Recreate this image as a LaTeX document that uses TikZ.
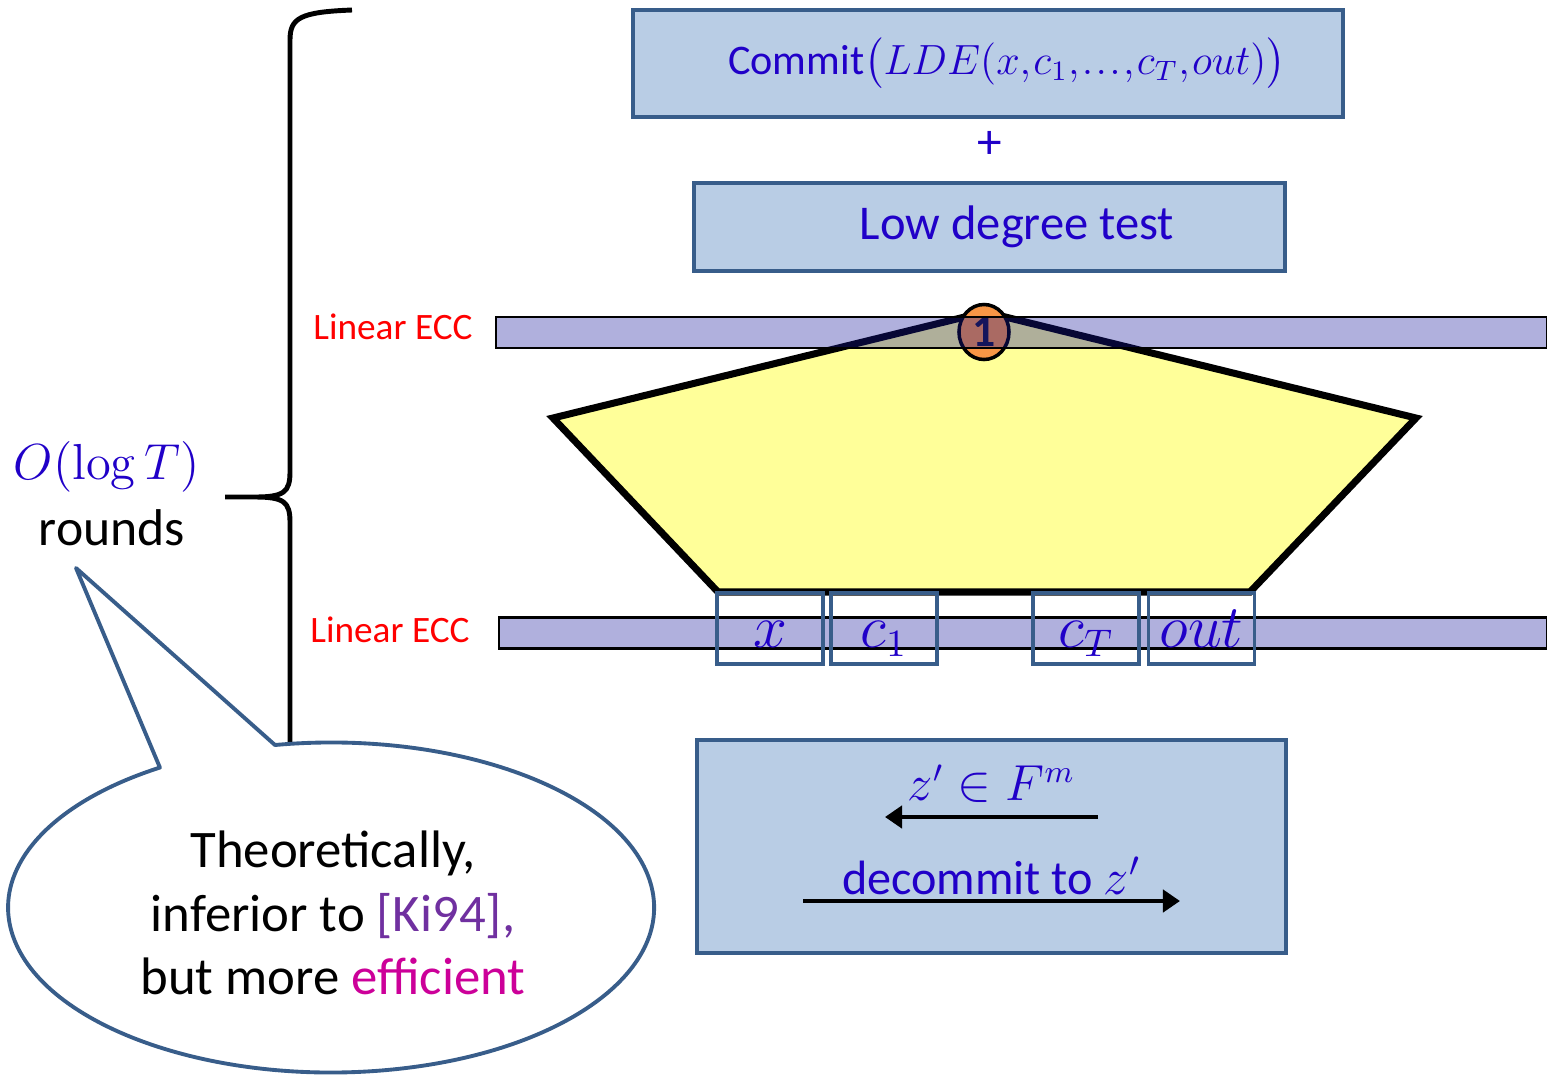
\documentclass[tikz,border=0pt]{standalone}
\usepackage{amsmath}
\usepackage[no-math]{fontspec}
\setmainfont{Carlito}
\usetikzlibrary{arrows.meta,positioning,shapes.geometric}
\definecolor{boxfill}{RGB}{185,205,229}
\definecolor{boxline}{RGB}{56,93,138}
\definecolor{txtblue}{RGB}{32,0,200}
\definecolor{barblue}{RGB}{23,23,156}
\definecolor{pentfill}{RGB}{255,255,153}
\definecolor{dotorange}{RGB}{247,150,70}
\definecolor{kipurple}{RGB}{112,48,160}
\definecolor{effmagenta}{RGB}{204,0,153}

\begin{document}
\begin{tikzpicture}[x=0.01cm,y=-0.01cm,
    box/.style={draw=boxline,line width=1.2pt,fill=boxfill,text=txtblue},
    bar/.style={draw=black,line width=0.6pt,fill=barblue,fill opacity=0.34,
      minimum height=0.31cm,inner sep=0pt,anchor=west},
    cell/.style={draw=boxline,line width=1.1pt,minimum width=1.06cm,
      minimum height=0.71cm,inner sep=0pt,text height=0.37cm,text depth=0cm,
      text=txtblue,font=\fontsize{16}{18}\selectfont},
    ecc/.style={text=red,font=\fontsize{10.6}{12}\selectfont},
    arr/.style={line width=1.4pt,-{Triangle[length=0.17cm,width=0.22cm]}}]
    \useasboundingbox (0,0) rectangle (1547,1081);
    % brace
    \draw[line width=1.4pt] (352,10) .. controls (300,12) and (290,18) .. (290,40)
      -- (290,472) .. controls (290,492) and (284,497) .. (255,497) -- (225,497)
      -- (255,497) .. controls (284,497) and (290,502) .. (290,522)
      -- (290,955) .. controls (290,978) and (300,984) .. (352,986);
    \node[text=txtblue,font=\fontsize{15}{17}\selectfont] (OT) at (107,467) {$O(\log T)$};
    \node[font=\fontsize{14.7}{17}\selectfont] (RD) at (112,528) {rounds};
    % commit + low degree test
    \node[box,minimum width=7.1cm,minimum height=1.07cm,font=\fontsize{12}{14}\selectfont]
      (CM) at (988,63.5) {\hspace*{0.38cm}Commit$\thinmuskip=1mu\big(LDE(x,c_1,\ldots,c_T,out)\big)$};
    \node[text=txtblue,font=\fontsize{14}{16}\selectfont] (PL) at (990,145) {+};
    \node[box,minimum width=5.91cm,minimum height=0.88cm,font=\fontsize{13.8}{16}\selectfont]
      (LD) at (989.5,227) {\hspace*{0.55cm}Low degree test};
    % the computation
    \draw[line width=2pt,line join=miter,fill=pentfill]
      (553,418) -- (985,312) -- (1416,418) -- (1250,592) -- (718,592) -- cycle;
    \node[ellipse,draw=black,line width=1pt,fill=dotorange,minimum width=0.5cm,
      minimum height=0.55cm,inner sep=0pt,text={rgb,255:red,20;green,20;blue,60},
      font=\fontsize{13}{15}\bfseries] (N1) at (984,332) {1};
    \node[bar,minimum width=10.5cm] (EB1) at (495,332.5) {};
    \node[ecc,left=0.1cm of EB1,yshift=0.06cm] (L1) {Linear ECC};
    \node[bar,minimum width=10.47cm] (EB2) at (498,633) {};
    \node[ecc,left=0.16cm of EB2,yshift=0.03cm] (L2) {Linear ECC};
    \node[cell] (CX) at (770,628.5) {$x$};
    \node[cell] (C1) at (884,628.5) {$c_1$};
    \node[cell] (CT) at (1086,628.5) {$c_T$};
    \node[cell] (CO) at (1201.5,628.5) {$out$};
    % decommit
    \node[box,minimum width=5.89cm,minimum height=2.13cm] (DC) at (991.5,846.5) {};
    \coordinate (Q1) at (1098,817);
    \coordinate (Q2) at (885,817);
    \coordinate (D1) at (803,901);
    \coordinate (D2) at (1180,901);
    \draw[arr] (Q1) -- (Q2) node[midway,above,text=txtblue,
      font=\fontsize{13.5}{16}\selectfont] (QZ) {$z'\in F^m$};
    \draw[arr] (D1) -- (D2) node[midway,above,inner sep=1pt,text=txtblue,
      font=\fontsize{13.7}{15}\selectfont] (DZ) {decommit to $z'$};
    % speech bubble
    \draw[draw=boxline,line width=1.1pt,fill=white,line join=round] (76,568) -- (275,745)
      arc[start angle=-100,end angle=238,x radius=323,y radius=165] -- cycle;
    \node[align=center,font=\fontsize{15}{18}\selectfont] (BT) at (333,913)
      {Theoretically,\\inferior to \textcolor{kipurple}{[Ki94],}\\but more \textcolor{effmagenta}{efficient}};
\end{tikzpicture}
\end{document}
